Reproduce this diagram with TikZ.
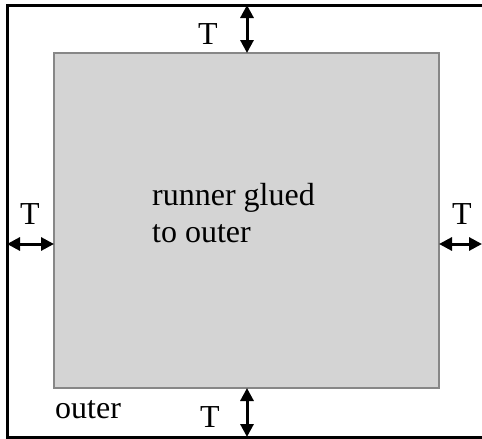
\documentclass[tikz,border=0pt]{standalone}
\usepackage{fontspec}
\setmainfont{Liberation Serif}
\usetikzlibrary{arrows.meta}
\tikzset{
  gap/.style={{Triangle[length=13pt,width=13pt]}-{Triangle[length=13pt,width=13pt]}, line width=3pt},
  lbl/.style={font=\fontsize{32}{37}\selectfont, inner sep=0pt}
}
\begin{document}
\begin{tikzpicture}[x=1pt,y=-1pt]

    \useasboundingbox (0,0) rectangle (482,439);

    % outer piece and glued runner
    \draw[line width=3pt] (7,5) coordinate (otl) rectangle (490,437) coordinate (obr);
    \draw[line width=2pt, draw=black!47, fill=black!17] (54,53) coordinate (itl) rectangle (439,388) coordinate (ibr);

    \coordinate (tin) at (247,53);   \coordinate (tout) at (247,5);
    \coordinate (bin) at (247,388);  \coordinate (bout) at (247,437);
    \coordinate (lin) at (54,244);   \coordinate (lout) at (7,244);
    \coordinate (rin) at (439,244);  \coordinate (rout) at (482,244);

    \draw[gap] (tout) -- (tin);
    \draw[gap] (bin) -- (bout);
    \draw[gap] (lout) -- (lin);
    \draw[gap] (rin) -- (rout);

    \node[lbl] (tT) at (208,34) {T};
    \node[lbl] (bT) at (210,417) {T};
    \node[lbl] (lT) at (30,214) {T};
    \node[lbl] (rT) at (462,214) {T};
    \node[lbl, anchor=base west] (outer) at (55,418) {outer};
    \node[lbl, align=left, anchor=west] (runner) at (152,213) {runner glued\\to outer};

\end{tikzpicture}
\end{document}
